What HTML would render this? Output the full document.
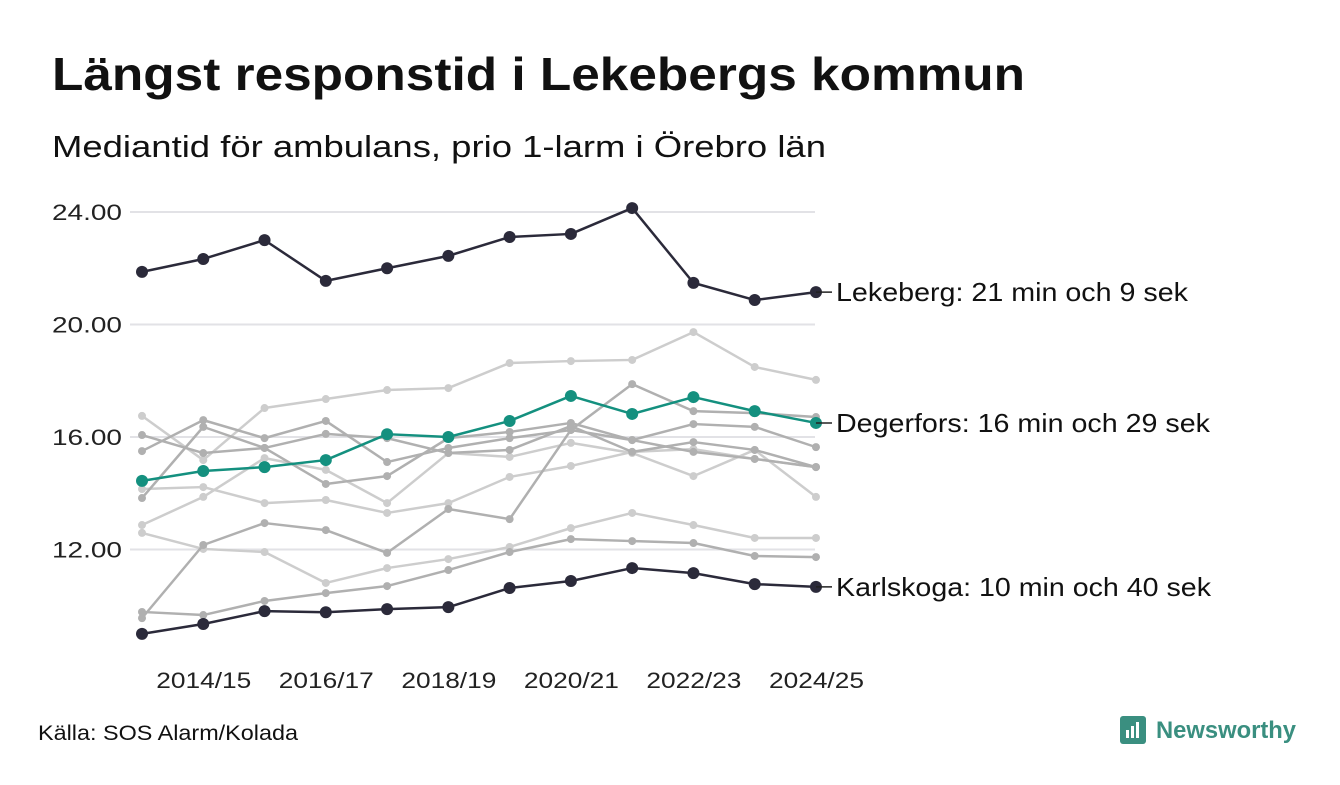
<!DOCTYPE html>
<html><head><meta charset="utf-8"><style>
body{margin:0;width:1340px;height:780px;background:#fff;font-family:"Liberation Sans",sans-serif;overflow:hidden}
</style></head><body>
<svg id="c" width="1340" height="780">
<text x="52" y="90" font-size="46" font-weight="bold" fill="#111" textLength="973" lengthAdjust="spacingAndGlyphs">Längst responstid i Lekebergs kommun</text>
<text x="52" y="157" font-size="31" fill="#111" textLength="774" lengthAdjust="spacingAndGlyphs">Mediantid för ambulans, prio 1-larm i Örebro län</text>
<text x="38" y="740" font-size="21" fill="#111" textLength="260" lengthAdjust="spacingAndGlyphs">Källa: SOS Alarm/Kolada</text>
<g>
<rect x="1120" y="716" width="26" height="28" rx="3" fill="#3a8f80"/>
<rect x="1126" y="730" width="3" height="8" fill="#fff"/><rect x="1131" y="726" width="3" height="12" fill="#fff"/><rect x="1136" y="722" width="3" height="16" fill="#fff"/>
<text x="1156" y="738" font-size="24" font-weight="bold" fill="#3a8f80" textLength="140" lengthAdjust="spacingAndGlyphs">Newsworthy</text>
</g>
<g id="grid"></g><g id="lines"></g><g id="xt"></g>
</svg>
<script>
const categories=["2013/14","2014/15","2015/16","2016/17","2017/18","2018/19","2019/20","2020/21","2021/22","2022/23","2023/24","2024/25"];
const yTicks=[12,16,20,24];
const yTickLabels=["12.00","16.00","20.00","24.00"];
const gray1=[16.75,15.18,17.03,17.35,17.67,17.74,18.63,18.70,18.74,19.73,18.49,18.03];
const gray2=[15.50,16.60,15.96,16.57,15.11,15.61,15.96,16.25,15.89,16.46,16.36,15.64];
const gray3=[16.07,15.43,15.61,16.11,15.96,15.43,15.54,16.39,15.47,15.82,15.54,14.93];
const gray4=[13.83,16.36,15.61,14.33,14.61,15.96,16.18,16.50,15.89,15.47,15.22,14.93];
const gray5=[9.56,12.16,12.94,12.69,11.88,13.44,13.08,16.25,17.88,16.92,16.85,16.71];
const gray6=[14.15,14.22,13.65,13.76,13.30,13.65,14.58,14.97,15.47,15.57,15.22,14.93];
const gray7=[12.87,13.87,15.25,14.83,13.65,15.43,15.29,15.79,15.43,14.61,15.54,13.87];
const gray8=[12.59,12.02,11.91,10.81,11.34,11.66,12.09,12.76,13.30,12.87,12.41,12.41];
const gray9=[9.78,9.67,10.17,10.45,10.70,11.27,11.91,12.37,12.30,12.23,11.77,11.73];
const lekeberg=[21.87,22.33,23.0,21.55,22.0,22.44,23.11,23.22,24.14,21.48,20.87,21.15];
const degerfors=[14.44,14.79,14.93,15.18,16.1,16.0,16.57,17.46,16.82,17.42,16.92,16.5];
const karlskoga=[9.0,9.35,9.81,9.77,9.88,9.95,10.63,10.88,11.34,11.16,10.77,10.67];
const labels=["Lekeberg: 21 min och 9 sek","Degerfors: 16 min och 29 sek","Karlskoga: 10 min och 40 sek"];
const labelW=[352,374,375];

const NS="http://www.w3.org/2000/svg";
const x=i=>142+i*61.27;
const y=v=>887-28.125*v;
function mk(t,a,p){const e=document.createElementNS(NS,t);for(const k in a)e.setAttribute(k,a[k]);p.appendChild(e);return e;}
const G=document.getElementById('grid'),L=document.getElementById('lines'),X=document.getElementById('xt');
yTicks.forEach((t,i)=>{
 const l=mk('line',{x1:130,x2:815,y1:y(t),y2:y(t),stroke:'#e2e2e6','stroke-width':2},G);
 
 
 const tx=mk('text',{x:122,y:y(t)+8,'font-size':22,fill:'#222','text-anchor':'end',textLength:70,lengthAdjust:'spacingAndGlyphs'},G);
 
 
 tx.textContent=yTickLabels[i];
});
categories.forEach((c,i)=>{
 if(i%2===1){const t=mk('text',{x:x(i)-47,y:688,'font-size':22,fill:'#222',textLength:95,lengthAdjust:'spacingAndGlyphs'},X);
 
 
 t.textContent=c;}
});
function series(d,col,w,r,name){
 const g=mk('g',{},L);
 
 
 mk('polyline',{points:d.map((v,i)=>x(i)+','+y(v)).join(' '),fill:'none',stroke:col,'stroke-width':w,'stroke-linejoin':'round'},g);
 d.forEach((v,i)=>{const c=mk('circle',{cx:x(i),cy:y(v),r:r,fill:col},g);
  
  });
}
const light='#cdcdcd',dark='#b0b0b0';
[[gray1,light],[gray6,light],[gray7,light],[gray8,light],[gray2,dark],[gray3,dark],[gray4,dark],[gray5,dark],[gray9,dark]].forEach((s,k)=>series(s[0],s[1],2.5,4,'other-municipality-line-'+(k+1)));
series(lekeberg,'#2b2a3a',2.5,6,'lekeberg-line');
series(degerfors,'#14907f',2.5,6,'degerfors-line');
series(karlskoga,'#2b2a3a',2.5,6,'karlskoga-line');
[[lekeberg,labels[0]],[degerfors,labels[1]],[karlskoga,labels[2]]].forEach((s,k)=>{
 const v=s[0][11];
 mk('line',{x1:x(11),x2:832,y1:y(v),y2:y(v),stroke:'#222','stroke-width':1.5},L);
 const t=mk('text',{x:836,y:y(v)+9,'font-size':26,fill:'#111',textLength:labelW[k],lengthAdjust:'spacingAndGlyphs'},L);
 
 
 t.textContent=s[1];
});
</script>
</body></html>
